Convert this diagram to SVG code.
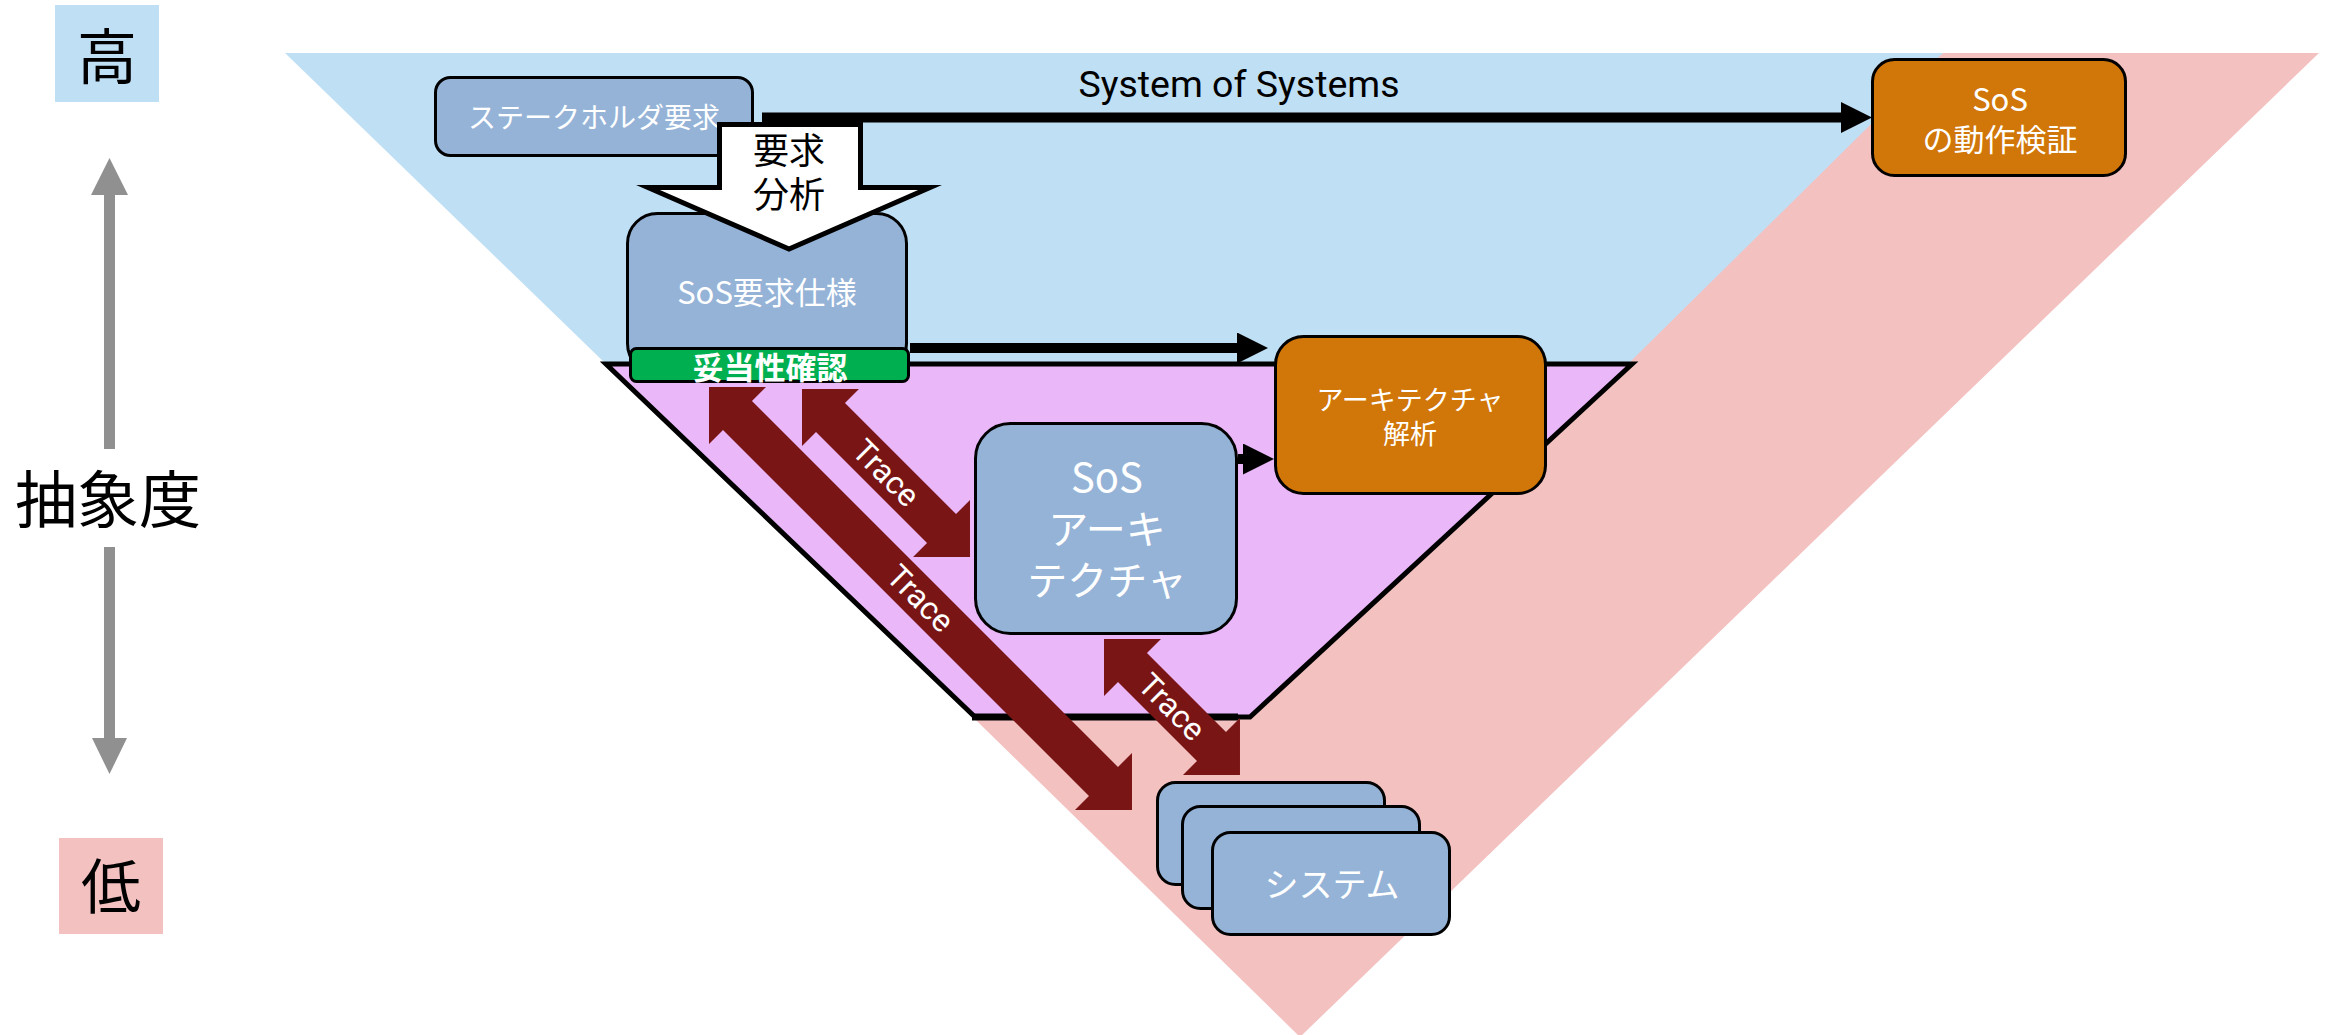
<svg xmlns="http://www.w3.org/2000/svg" width="2330" height="1035" viewBox="0 0 2330 1035">
  <defs>
    <style>
      .jp { font-family: "Noto Sans CJK JP", "Noto Sans", sans-serif; }
      .lat { font-family: Roboto, "Liberation Sans", sans-serif; }
      .node { fill: #95B3D7; stroke: #000; stroke-width: 3; }
      .task { fill: #D17608; stroke: #000; stroke-width: 3; }
      .wtxt { fill: #fff; text-anchor: middle; dominant-baseline: central; }
      .btxt { fill: #000; text-anchor: middle; dominant-baseline: central; }
      .flow { stroke: #000; stroke-width: 10; fill: none; }
      .trace { fill: #7A1516; }
      .legend-arrow { fill: #909090; }
    </style>
    <marker id="head" markerUnits="userSpaceOnUse" markerWidth="31" markerHeight="31" refX="0" refY="15.5" orient="auto">
      <path d="M0,0 L31,15.5 L0,31 Z" fill="#000"/>
    </marker>
  </defs>

  <!-- abstraction scale on the left -->
  <g id="scale">
    <rect x="55" y="5" width="104" height="97" fill="#BFDFF5"/>
    <text class="jp btxt" x="107" y="52" font-size="60">高</text>
    <rect x="104" y="193" width="11" height="256" class="legend-arrow"/>
    <path d="M109.5,158 L128,195 L91,195 Z" class="legend-arrow"/>
    <text class="jp btxt" x="108" y="496" font-size="62">抽象度</text>
    <rect x="104" y="547" width="11" height="193" class="legend-arrow"/>
    <path d="M92,738 L127,738 L109.5,774 Z" class="legend-arrow"/>
    <rect x="59" y="838" width="104" height="96" fill="#F4C1C1"/>
    <text class="jp btxt" x="111" y="882" font-size="60">低</text>
  </g>

  <!-- abstraction layers -->
  <g id="layers">
    <polygon points="294,53 2319,53 1300,1037" fill="#F4C1C1"/>
    <polygon points="285,53 1943,53 1628,364 606,364" fill="#BFDFF5"/>
    <polygon points="606,364 1632,364 1250,717 975,717" fill="#EAB7F8" stroke="#000" stroke-width="5" stroke-miterlimit="10"/>
    <line x1="972" y1="717" x2="1238" y2="717" stroke="#000" stroke-width="7"/>
    <text class="lat" x="1239" y="97" font-size="37.5" text-anchor="middle" fill="#000">System of Systems</text>
  </g>

  <!-- flows between nodes -->
  <g id="connectors">
    <line class="flow" x1="762" y1="117.5" x2="1841" y2="117.5" marker-end="url(#head)"/>
    <line class="flow" x1="910" y1="348" x2="1237" y2="348" marker-end="url(#head)"/>
    <line class="flow" x1="1238" y1="459" x2="1243" y2="459" marker-end="url(#head)"/>

    <g transform="translate(709,387) rotate(45)">
      <path class="trace" d="M0,0 L40.3,-40.3 L40.3,-20.5 L557.9,-20.5 L557.9,-40.3 L598.2,0 L557.9,40.3 L557.9,20.5 L40.3,20.5 L40.3,40.3 Z"/>
      <text class="lat wtxt" x="299" y="0" font-size="32">Trace</text>
    </g>
    <g transform="translate(802,389) rotate(45)">
      <path class="trace" d="M0,0 L40.3,-40.3 L40.3,-20.5 L197.3,-20.5 L197.3,-40.3 L237.6,0 L197.3,40.3 L197.3,20.5 L40.3,20.5 L40.3,40.3 Z"/>
      <text class="lat wtxt" x="118.8" y="0" font-size="32">Trace</text>
    </g>
    <g transform="translate(1104,639) rotate(45)">
      <path class="trace" d="M0,0 L40.3,-40.3 L40.3,-20.5 L152,-20.5 L152,-40.3 L192.3,0 L152,40.3 L152,20.5 L40.3,20.5 L40.3,40.3 Z"/>
      <text class="lat wtxt" x="96" y="0" font-size="32">Trace</text>
    </g>
  </g>

  <g id="stakeholder-req">
    <rect class="node" x="435.5" y="77.5" width="317" height="78" rx="15"/>
    <text class="jp wtxt" x="594" y="116" font-size="28">ステークホルダ要求</text>
  </g>

  <g id="sos-req-spec">
    <rect class="node" x="627.5" y="213.5" width="279" height="160" rx="30"/>
    <text class="jp wtxt" x="767" y="290" font-size="31">SoS要求仕様</text>
  </g>

  <g id="validation">
    <rect x="630.5" y="348.5" width="278" height="33" rx="6" fill="#00B050" stroke="#000" stroke-width="3"/>
    <text class="jp wtxt" x="770" y="365" font-size="31" font-weight="bold">妥当性確認</text>
  </g>

  <g id="req-analysis">
    <polygon points="719.5,124.5 860.5,124.5 860.5,187.5 930,187.5 789,249 648,187.5 719.5,187.5" fill="#fff" stroke="#000" stroke-width="5" stroke-miterlimit="10"/>
    <text class="jp btxt" font-size="36"><tspan x="789" y="148">要求</tspan><tspan x="789" y="192">分析</tspan></text>
  </g>

  <g id="sos-architecture">
    <rect class="node" x="975.5" y="423.5" width="261" height="210" rx="35"/>
    <text class="jp wtxt" font-size="40"><tspan x="1107" y="475">SoS</tspan><tspan x="1107" y="527">アーキ</tspan><tspan x="1107" y="578">テクチャ</tspan></text>
  </g>

  <g id="architecture-analysis">
    <rect class="task" x="1275.5" y="336.5" width="270" height="157" rx="28"/>
    <text class="jp wtxt" font-size="27"><tspan x="1410" y="398">アーキテクチャ</tspan><tspan x="1410" y="432">解析</tspan></text>
  </g>

  <g id="sos-verification">
    <rect class="task" x="1872.5" y="59.5" width="253" height="116" rx="22"/>
    <text class="jp wtxt" font-size="31"><tspan x="2000" y="97">SoS</tspan><tspan x="2000" y="137">の動作検証</tspan></text>
  </g>

  <g id="systems">
    <rect class="node" x="1157.5" y="782.5" width="227" height="102" rx="18"/>
    <rect class="node" x="1182.5" y="806.5" width="237" height="102" rx="18"/>
    <rect class="node" x="1212.5" y="832.5" width="237" height="102" rx="18"/>
    <text class="jp wtxt" x="1332" y="882" font-size="34">システム</text>
  </g>
</svg>
